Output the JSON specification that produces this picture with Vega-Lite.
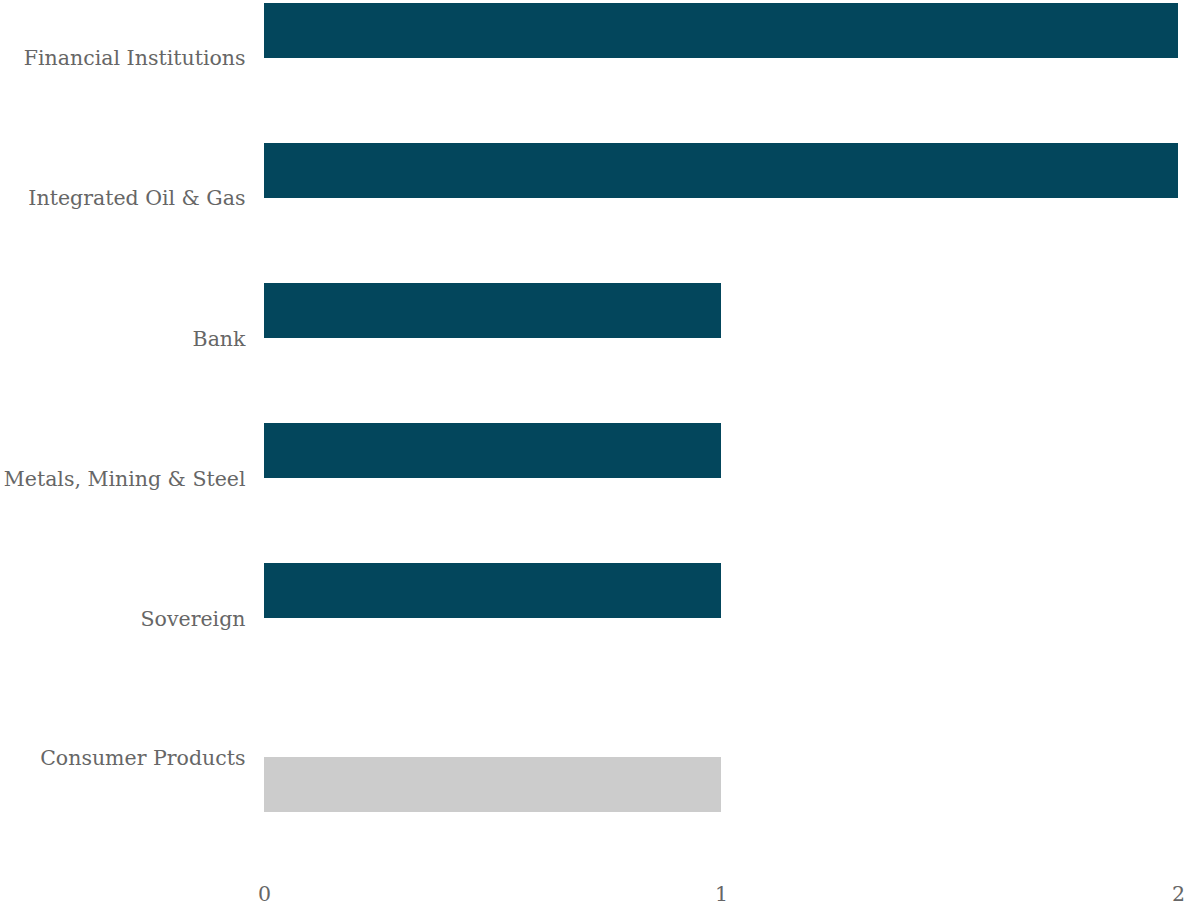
{
  "$schema": "https://vega.github.io/schema/vega-lite/v6.json",
  "padding": {"left": 0, "top": 0, "right": 0, "bottom": 0},
  "background": "white",
  "config": {
    "view": {"stroke": null},
    "axis": {"labelFont": "DejaVu Serif", "labelFontSize": 20.5, "labelColor": "#666666", "labelLimit": 400, "labelOverlap": false, "domain": false, "ticks": false, "grid": false, "title": null},
    "axisY": {"minExtent": 264, "maxExtent": 264}
  },
  "datasets": {
    "main": [
      {"sector": "Financial Institutions", "count": 2, "group": "top"},
      {"sector": "Integrated Oil & Gas", "count": 2, "group": "top"},
      {"sector": "Bank", "count": 1, "group": "top"},
      {"sector": "Metals, Mining & Steel", "count": 1, "group": "top"},
      {"sector": "Sovereign", "count": 1, "group": "top"},
      {"sector": "Consumer Products", "count": 1, "group": "bottom"}
    ]
  },
  "vconcat": [
    {
      "width": 914,
      "height": 621,
      "data": {"name": "main"},
      "transform": [{"filter": "datum.group === 'top'"}],
      "mark": {"type": "bar", "color": "#03465c"},
      "encoding": {
        "y": {"field": "sector", "type": "nominal", "sort": null,
              "scale": {"paddingInner": 0.6071, "paddingOuter": 0.0214},
              "axis": {"labelPadding": 19, "labelOffset": 29, "labelBaseline": "middle"}},
        "x": {"field": "count", "type": "quantitative", "scale": {"domain": [0, 2]}, "axis": null}
      }
    },
    {
      "width": 914,
      "height": 55,
      "data": {"name": "main"},
      "transform": [{"filter": "datum.group === 'bottom'"}],
      "mark": {"type": "bar", "color": "#cccccc"},
      "encoding": {
        "y": {"field": "sector", "type": "nominal",
              "scale": {"paddingInner": 0, "paddingOuter": 0},
              "axis": {"labelPadding": 19, "labelOffset": -26, "labelBaseline": "middle"}},
        "x": {"field": "count", "type": "quantitative", "scale": {"domain": [0, 2], "nice": false},
              "axis": {"values": [0, 1, 2], "labelExpr": "format(datum.value, '.0f')", "labelFlush": false, "labelOverlap": false, "labelSeparation": 0, "labelPadding": 72, "labelBaseline": "top"}}
      }
    }
  ],
  "spacing": 118
}
